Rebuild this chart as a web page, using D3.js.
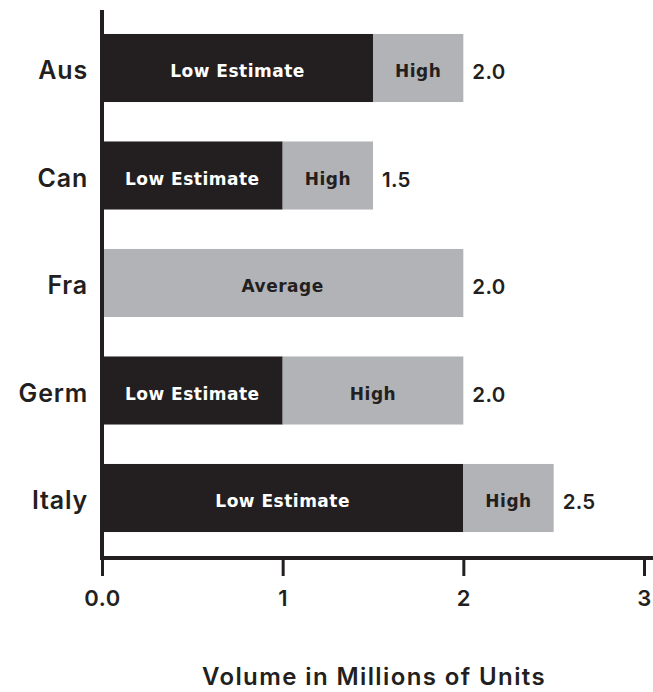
<!DOCTYPE html>
<html>
<head>
<meta charset="utf-8">
<script src="https://cdn.jsdelivr.net/npm/d3@7"></script>
<style>
  html, body { margin: 0; padding: 0; background: #ffffff; }
  svg { display: block; font-family: "Inter", "Open Sans", sans-serif; }
</style>
</head>
<body>
<svg id="chart" width="653" height="692"></svg>
<script>
// Estimated unit volumes by country (millions)
const countries = ["Aus", "Can", "Fra", "Germ", "Italy"];
const lowEstimate = [1.5, 1.0, null, 1.0, 2.0];
const highEstimate = [2.0, 1.5, null, 2.0, 2.5];
const averageValue = [null, null, 2.0, null, null];
const totalLabels = ["2.0", "1.5", "2.0", "2.0", "2.5"];
const tickValues = [0, 1, 2, 3];
const tickLabels = ["0.0", "1", "2", "3"];
const axisTitle = "Volume in Millions of Units";

const DARK = "#231f20";
const GREY = "#b2b3b6";

const svg = d3.select("#chart");

const x = d3.scaleLinear().domain([0, 3]).range([102, 644]);
const y = d3.scaleBand()
  .domain(countries)
  .range([14.25, 551.75])
  .paddingInner(0.367)
  .paddingOuter(0.1835);

const rows = countries.map((c, i) => ({
  country: c,
  low: lowEstimate[i],
  high: highEstimate[i],
  avg: averageValue[i],
  label: totalLabels[i]
}));

// Segments: low (dark), high remainder (grey) or a single average bar (grey)
const segments = [];
rows.forEach(r => {
  if (r.avg != null) {
    segments.push({ country: r.country, x0: 0, x1: r.avg, fill: GREY, text: "Average", textFill: DARK });
  } else {
    segments.push({ country: r.country, x0: 0, x1: r.low, fill: DARK, text: "Low Estimate", textFill: "#ffffff" });
    segments.push({ country: r.country, x0: r.low, x1: r.high, fill: GREY, text: "High", textFill: DARK });
  }
});

const mid = d => y(d) + y.bandwidth() / 2;
const g = svg.append("g");

g.selectAll("rect.seg")
  .data(segments)
  .join("rect")
  .attr("class", "seg")
  .attr("x", d => x(d.x0))
  .attr("y", d => y(d.country))
  .attr("width", d => x(d.x1) - x(d.x0))
  .attr("height", y.bandwidth())
  .attr("fill", d => d.fill);

g.selectAll("text.seg-label")
  .data(segments)
  .join("text")
  .attr("class", "seg-label")
  .attr("x", d => (x(d.x0) + x(d.x1)) / 2)
  .attr("y", d => mid(d.country) + 9)
  .attr("text-anchor", "middle")
  .attr("font-family", "'DejaVu Sans', sans-serif")
  .attr("font-size", 17)
  .attr("font-weight", 700)
  .attr("letter-spacing", 0.5)
  .attr("fill", d => d.textFill)
  .text(d => d.text);

// Total value labels at the end of each bar
g.selectAll("text.total")
  .data(rows)
  .join("text")
  .attr("class", "total")
  .attr("x", d => x(d.avg != null ? d.avg : d.high) + 9)
  .attr("y", d => mid(d.country) + 11)
  .attr("font-size", 20.5)
  .attr("font-weight", 600)
  .attr("letter-spacing", 0.3)
  .attr("fill", DARK)
  .text(d => d.label);

// Category labels
g.selectAll("text.cat")
  .data(countries)
  .join("text")
  .attr("class", "cat")
  .attr("x", 88)
  .attr("y", d => mid(d) + 11)
  .attr("text-anchor", "end")
  .attr("font-size", 25)
  .attr("font-weight", 600)
  .attr("letter-spacing", 0.8)
  .attr("fill", DARK)
  .text(d => d);

// Bottom axis
const xAxis = d3.axisBottom(x)
  .tickValues(tickValues)
  .tickFormat((d, i) => tickLabels[i])
  .tickSize(18)
  .tickPadding(14);

const axisG = svg.append("g")
  .attr("transform", "translate(0,558)")
  .call(xAxis);
axisG.select(".domain").remove();
axisG.selectAll(".tick line").attr("stroke", DARK).attr("stroke-width", 3);
axisG.selectAll(".tick text")
  .attr("font-family", "Inter, 'Open Sans', sans-serif")
  .attr("font-size", 22)
  .attr("font-weight", 600)
  .attr("letter-spacing", 0.5)
  .attr("fill", DARK);

// Axis lines
svg.append("line")
  .attr("x1", x(0)).attr("x2", 653)
  .attr("y1", 558).attr("y2", 558)
  .attr("stroke", DARK).attr("stroke-width", 4);
svg.append("line")
  .attr("x1", x(0)).attr("x2", x(0))
  .attr("y1", 10).attr("y2", 560)
  .attr("stroke", DARK).attr("stroke-width", 4);

// Axis title
svg.append("text")
  .attr("x", 374)
  .attr("y", 685)
  .attr("text-anchor", "middle")
  .attr("font-size", 24)
  .attr("font-weight", 600)
  .attr("letter-spacing", 1.4)
  .attr("fill", DARK)
  .text(axisTitle);
</script>
</body>
</html>
